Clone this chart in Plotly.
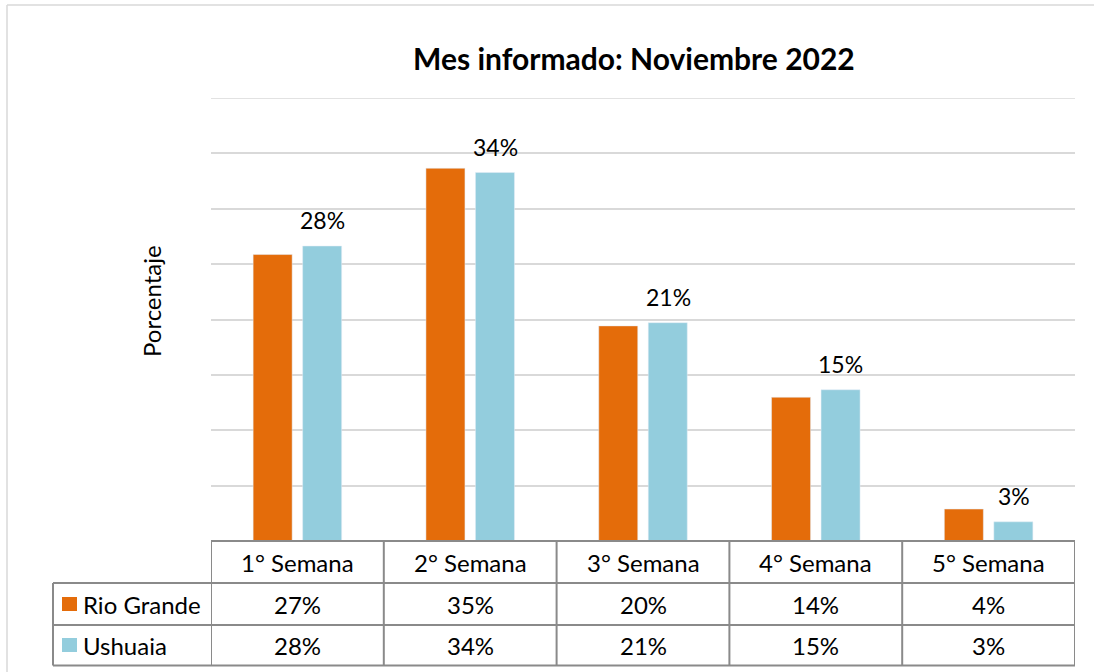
import plotly.graph_objects as go

categories = ["1° Semana", "2° Semana", "3° Semana", "4° Semana", "5° Semana"]
series_names = ["Rio Grande", "Ushuaia"]
rio_grande_bar = [26.9, 35.0, 20.2, 13.5, 3.0]
ushuaia_bar = [27.7, 34.6, 20.5, 14.2, 1.8]
rio_grande_labels = ["27%", "35%", "20%", "14%", "4%"]
ushuaia_labels = ["28%", "34%", "21%", "15%", "3%"]
title_text = "Mes informado: Noviembre 2022"
y_title = "Porcentaje"

ORANGE = "#E46C0A"
BLUE = "#93CDDD"
FONT = "Lato"
TXT = 23
TAB = 24
Y_MAX = 41.6
Y_STEP = 5.2
W, H = 1094, 672
L, R, T, B = 211, 19, 98, 131
PW, PH = W - L - R, H - T - B

def px_x(px):
    return (px - L) / PW

def px_y(py):
    return (H - B - py) / PH

fig = go.Figure()
fig.add_trace(go.Bar(x=categories, y=rio_grande_bar, name=series_names[0],
                     marker_color=ORANGE, showlegend=False))
fig.add_trace(go.Bar(x=categories, y=ushuaia_bar, name=series_names[1],
                     marker_color=BLUE, showlegend=False))

annotations = []
# data labels for Ushuaia
for c, v, lab in zip(categories, ushuaia_bar, ushuaia_labels):
    annotations.append(dict(x=c, y=v, xref="x", yref="y", text=lab, showarrow=False,
                            xanchor="center", yanchor="bottom", xshift=25, yshift=10,
                            font=dict(family=FONT, size=TXT, color="#000000")))

# title
annotations.append(dict(x=px_x(634), y=px_y(58), xref="paper", yref="paper", text="<b>%s</b>" % title_text,
                        showarrow=False, xanchor="center", yanchor="middle",
                        font=dict(family=FONT, size=30, color="#000000")))
# y title
annotations.append(dict(x=px_x(151), y=px_y(301), xref="paper", yref="paper", text=y_title,
                        showarrow=False, textangle=-90, xanchor="center", yanchor="middle",
                        font=dict(family=FONT, size=24, color="#000000")))

row_y = [px_y(562), px_y(604), px_y(645)]
for i, c in enumerate(categories):
    annotations.append(dict(x=c, y=row_y[0], xref="x", yref="paper", text=c, showarrow=False,
                            xanchor="center", yanchor="middle",
                            font=dict(family=FONT, size=TAB, color="#000000")))
    annotations.append(dict(x=c, y=row_y[1], xref="x", yref="paper", text=rio_grande_labels[i], showarrow=False,
                            xanchor="center", yanchor="middle",
                            font=dict(family=FONT, size=TAB, color="#000000")))
    annotations.append(dict(x=c, y=row_y[2], xref="x", yref="paper", text=ushuaia_labels[i], showarrow=False,
                            xanchor="center", yanchor="middle",
                            font=dict(family=FONT, size=TAB, color="#000000")))
for name, yy in zip(series_names, row_y[1:]):
    annotations.append(dict(x=px_x(81), y=yy, xref="paper", yref="paper", text=name, showarrow=False,
                            xanchor="left", yanchor="middle",
                            font=dict(family=FONT, size=TAB, color="#000000")))

shapes = []
LC = "#8A8A8A"
# top gridline (plotly skips grid at the very edge)
shapes.append(dict(type="line", xref="paper", yref="y", x0=0, x1=1, y0=Y_MAX, y1=Y_MAX,
                   line=dict(color="#D9D9D9", width=1.5), layer="below"))
# legend swatches
for col, yc in zip([ORANGE, BLUE], [604, 645]):
    shapes.append(dict(type="rect", xref="paper", yref="paper", x0=px_x(62), x1=px_x(77),
                       y0=px_y(yc + 7), y1=px_y(yc - 7), fillcolor=col, line=dict(width=0)))
# table lines
y_top, y_r1, y_r2, y_bot = px_y(541), px_y(583), px_y(625), px_y(665.5)
shapes.append(dict(type="line", xref="x", yref="paper", x0=-0.5, x1=4.5, y0=y_top, y1=y_top,
                   line=dict(color=LC, width=2)))
for yy in [y_r1, y_r2, y_bot]:
    shapes.append(dict(type="line", xref="paper", yref="paper", x0=px_x(53), x1=1, y0=yy, y1=yy,
                       line=dict(color=LC, width=2)))
for k in range(len(categories) + 1):
    xv = k - 0.5
    shapes.append(dict(type="line", xref="x", yref="paper", x0=xv, x1=xv, y0=y_top, y1=y_bot,
                       line=dict(color=LC, width=2)))
shapes.append(dict(type="line", xref="paper", yref="paper", x0=px_x(53), x1=px_x(53), y0=y_r1, y1=y_bot,
                   line=dict(color=LC, width=2)))
# outer chart border
shapes.append(dict(type="line", xref="paper", yref="paper", x0=px_x(7), x1=px_x(7), y0=px_y(5), y1=px_y(700),
                   line=dict(color="#D9D9D9", width=1.5)))
shapes.append(dict(type="line", xref="paper", yref="paper", x0=px_x(7), x1=px_x(1120), y0=px_y(5), y1=px_y(5),
                   line=dict(color="#D9D9D9", width=1.5)))

fig.update_layout(
    width=W, height=H,
    margin=dict(l=L, r=R, t=T, b=B),
    paper_bgcolor="white", plot_bgcolor="white",
    barmode="group", bargap=0.427, bargroupgap=0.212,
    xaxis=dict(range=[-0.5, 4.5], showticklabels=False, showgrid=False, zeroline=False, showline=False,
               ticks=""),
    yaxis=dict(range=[0, Y_MAX], dtick=Y_STEP, tick0=0, showticklabels=False, showgrid=True,
               gridcolor="#D9D9D9", gridwidth=1.5, zeroline=False, showline=False, ticks=""),
    annotations=annotations, shapes=shapes,
    font=dict(family=FONT),
)

fig.write_html("out.html", config={"displayModeBar": False},
               post_script="document.body.style.margin='0';document.body.style.overflow='hidden';")
